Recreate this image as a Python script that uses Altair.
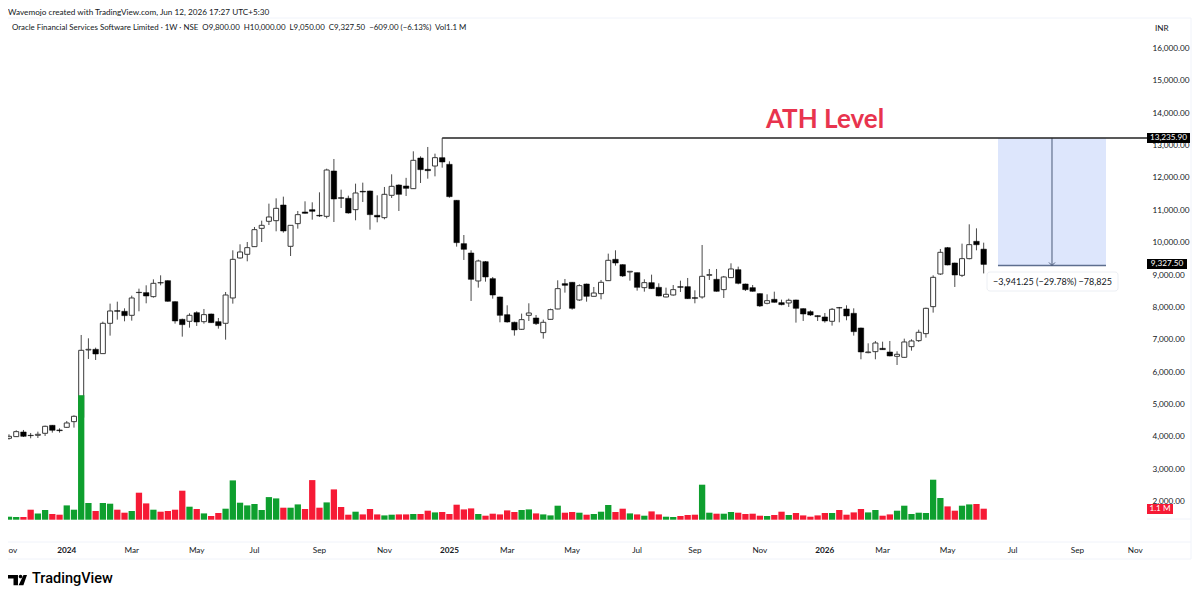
import altair as alt
import pandas as pd

opens = [3954,4006,4150,4047,4047,4109,4356,4212,4294,4469,4593,6684,6704,6571,7508,7899,7879,7755,8466,8456,
8332,8764,8826,8177,7631,7570,7837,7559,7796,7559,7508,8291,9527,9640,9877,10443,10660,10680,11164,9887,
10588,10948,11020,10845,10814,12215,11391,11370,11020,11587,11597,10845,10773,11463,11782,11752,11669,12617,12266,12369,
12627,12421,11309,9970,9681,8816,9413,8888,8322,7776,7539,7323,7755,7673,7220,7631,7951,8734,8775,8229,
8723,8342,8425,8826,9486,9321,9094,9074,8610,8765,8620,8322,8383,8641,8641,8301,8322,8991,8868,8548,
8919,9166,8723,8610,8425,8126,8250,8147,8136,8229,7961,7868,7745,7704,7570,7992,7951,7817,7364,6602,
6632,6735,6622,6488,6457,6787,6972,7189,8023,9032,9846,9372,8991,9506,10042,9800]
closes = [4016,4160,4016,4037,4078,4325,4202,4191,4428,4634,6674,6704,6560,7508,7889,7879,7745,8291,8456,8352,
8744,8754,8188,7580,7467,7755,7549,7776,7529,7436,8383,9485,9712,9846,10402,10536,10794,11061,10361,10536,
10866,10907,10969,10825,12246,11350,11370,10917,11535,11566,10866,10794,11494,11741,11494,11679,12545,12256,12225,12627,
12493,11422,10000,9795,8867,9434,8940,8383,7755,7549,7302,7621,7827,7498,7539,7930,8579,8682,7971,8672,
8342,8445,8775,9455,9372,8971,9115,8620,8765,8579,8353,8404,8548,8620,8270,8280,8960,9012,8497,8940,
9187,8744,8548,8497,8044,8208,8157,8085,8219,7971,7796,7765,7714,7580,7941,7982,7735,7250,6622,6622,
6900,6694,6499,6550,6931,6962,7230,7971,8929,9702,9310,9001,9506,9939,9936,9327.5]
highs = [4078,4202,4212,4119,4160,4346,4366,4263,4490,4665,7147,7044,6756,7559,8116,8177,7971,8363,8579,8682,
8867,8991,8837,8188,7652,7817,7879,7951,7807,7673,8476,9764,9949,10021,10485,10680,11206,11370,11422,10536,
10979,11278,11247,11556,12287,12586,11638,11453,11824,11855,11607,11463,11721,12112,11803,12003,12823,12668,12957,12751,
13235.9,12514,11319,10237,9764,9475,9434,8940,8332,8064,7559,7807,8126,7765,7621,7961,8837,8878,8785,8713,
8734,8631,8847,9661,9764,9331,9115,9074,8868,9012,8744,8610,8692,8826,8909,8528,9928,9187,9187,8971,
9362,9259,8734,8692,8435,8404,8486,8239,8270,8239,7971,7910,7755,7827,7982,8013,8064,7971,7374,6890,
6962,6941,6962,6643,7034,7014,7312,7992,8991,9805,9867,9382,9970,10567,10443,10000]
lows = [3913,3996,3996,3954,3965,4027,4130,4130,4274,4284,4550,6406,6375,6571,7127,7621,7570,7590,7879,8126,
8301,8682,8177,7498,7096,7374,7426,7498,7518,7343,7003,8116,9506,9424,9867,10021,10546,10351,10310,9588,
10433,10897,10711,10794,10752,10639,11072,10897,10691,11257,10402,10629,10722,11381,10979,11442,11659,11844,11978,12050,
12318,11391,9877,9465,8198,8610,8795,8270,7539,7529,7127,7302,7580,7456,7034,7621,7941,8456,7930,8198,
8177,8342,8250,8816,9290,8940,8826,8517,8486,8569,8342,8311,8363,8476,8260,8126,8270,8847,8486,8291,
8909,8713,8507,8486,8013,8095,8147,8064,8013,7529,7580,7735,7580,7529,7436,7539,7601,7127,6396,6581,
6396,6694,6488,6220,6437,6663,6931,7065,7838,9001,9300,8631,8940,9485,9764,9050]
volumes = [300,270,270,1000,630,970,570,500,1430,1000,12450,1670,870,1670,1600,1000,700,870,2700,1630,
1000,800,870,1000,2900,1300,1070,630,370,670,1100,3930,1700,1430,1570,970,2260,2130,1200,1200,
1530,1070,3960,1200,1730,3030,1270,500,800,530,1070,530,430,500,530,530,570,570,900,730,
770,570,1500,1030,1130,570,400,600,530,930,770,970,1030,630,530,430,1400,700,770,700,
500,570,800,1470,770,1100,630,530,400,830,530,300,270,370,470,500,3500,700,600,600,
770,700,570,600,400,370,470,800,470,670,430,300,430,670,670,970,500,730,1070,730,
970,400,530,900,1400,570,700,670,4000,2170,1330,900,1400,1530,1570,1100]

month_weeks = [8,17,26,34,43,52,61,69,78,87,95,104,113,121,130,139,148,156]
month_labels = ["2024","Mar","May","Jul","Sep","Nov","2025","Mar","May","Jul","Sep","Nov","2026","Mar","May","Jul","Sep","Nov"]
price_ticks = [2000,3000,4000,5000,6000,7000,8000,9000,10000,11000,12000,13000,14000,15000,16000]

ATH_WEEK = 60
ATH_PRICE = 13235.9
MEASURE_END = 9294.65
MEASURE_LEFT, MEASURE_MID, MEASURE_RIGHT = 136.98, 144.46, 151.94

XMIN, XMAX = -0.1385, 157.62
x_scale = alt.Scale(domain=[XMIN, XMAX], nice=False, zero=False, padding=0)
y_scale = alt.Scale(domain=[719, 16912], nice=False, zero=False)
v_scale = alt.Scale(domain=[-2330, 50070], nice=False, zero=False)
FONT = "Lato"
INK = "#131722"
SMALL = 8.2

df = pd.DataFrame({"w": range(len(opens)), "o": opens, "c": closes, "h": highs, "l": lows, "v": volumes})
df["up"] = df.c >= df.o
df["base"] = 0
X = alt.X("w:Q", scale=x_scale, axis=None)


def text(s, px, py, size=SMALL, color=INK, align="left", weight="normal", font=FONT):
    return alt.Chart(pd.DataFrame({"t": [s]})).mark_text(
        align=align, baseline="middle", fontSize=size, color=color, fontWeight=weight, font=font
    ).encode(x=alt.value(px - 8), y=alt.value(py - 18), text="t:N")


def box(x0, x1, y0, y1, fill, **kw):
    return alt.Chart(pd.DataFrame({"a": [0]})).mark_rect(fill=fill, **kw).encode(
        x=alt.value(x0 - 8), x2=alt.value(x1 - 8), y=alt.value(y0 - 18), y2=alt.value(y1 - 18)
    )


def hline(py, x0, x1, color="#f0f3fa"):
    return alt.Chart(pd.DataFrame({"a": [0]})).mark_rule(color=color, strokeWidth=1).encode(
        x=alt.value(x0 - 8), x2=alt.value(x1 - 8), y=alt.value(py - 18)
    )


def vline(px, y0, y1, color="#f0f3fa"):
    return alt.Chart(pd.DataFrame({"a": [0]})).mark_rule(color=color, strokeWidth=1).encode(
        x=alt.value(px - 8), y=alt.value(y0 - 18), y2=alt.value(y1 - 18)
    )


axis_layer = alt.Chart(pd.DataFrame({"p": price_ticks})).mark_point(opacity=0).encode(
    x=alt.value(0),
    y=alt.Y("p:Q", scale=y_scale, axis=alt.Axis(
        orient="right", values=price_ticks, format=",.2f", tickSize=0, domain=False, grid=False,
        labelFont=FONT, labelFontSize=SMALL, labelColor=INK, labelPadding=5, labelAlign="left",
        title=None, labelOverlap=False)),
)

frame = [hline(17, 8, 1191), hline(541, 8, 1191), hline(558, 8, 1191), hline(518, 1147, 1191), vline(1191, 17, 558)]

measure = pd.DataFrame({"x0": [MEASURE_LEFT], "x1": [MEASURE_RIGHT], "xm": [MEASURE_MID],
                        "top": [ATH_PRICE], "bot": [MEASURE_END]})
measure_rect = alt.Chart(measure).mark_rect(fill="#dde6fc").encode(
    x=alt.X("x0:Q", scale=x_scale, axis=None), x2="x1:Q",
    y=alt.Y("top:Q", scale=y_scale, axis=None), y2="bot:Q")
measure_base = alt.Chart(measure).mark_rule(color="#5d6e8e", strokeWidth=1.5).encode(
    x=alt.X("x0:Q", scale=x_scale, axis=None), x2="x1:Q",
    y=alt.Y("bot:Q", scale=y_scale, axis=None))
measure_arrow = alt.Chart(measure).mark_rule(color="#4a5a78", strokeWidth=1).encode(
    x=alt.X("xm:Q", scale=x_scale, axis=None),
    y=alt.Y("top:Q", scale=y_scale, axis=None), y2="bot:Q")
measure_head = alt.Chart(measure).mark_point(
    shape="M-1,-1 L0,0 L1,-1", filled=False, size=36, color="#4a5a78", strokeWidth=1, opacity=1
).encode(x=alt.X("xm:Q", scale=x_scale, axis=None), y=alt.Y("bot:Q", scale=y_scale, axis=None))

wicks = alt.Chart(df).mark_rule(color="#4a4a4a", strokeWidth=1).encode(
    x=X, y=alt.Y("h:Q", scale=y_scale, axis=None), y2="l:Q")
bodies_up = alt.Chart(df[df.up]).mark_bar(size=5, orient="vertical", fill="white", stroke="#3a3a3a", strokeWidth=1).encode(
    x=X, y=alt.Y("o:Q", scale=y_scale, axis=None), y2="c:Q")
bodies_down = alt.Chart(df[~df.up]).mark_bar(size=5.5, orient="vertical", fill="#000000", stroke="#000000", strokeWidth=0.5).encode(
    x=X, y=alt.Y("o:Q", scale=y_scale, axis=None), y2="c:Q")
vol_bars = alt.Chart(df).mark_bar(size=6.3, orient="vertical").encode(
    x=X, y=alt.Y("v:Q", scale=v_scale, axis=None), y2="base:Q",
    color=alt.Color("up:N", legend=None, scale=alt.Scale(domain=[True, False], range=["#0e9f2e", "#f61a35"])))

ath = pd.DataFrame({"x0": [ATH_WEEK], "x1": [XMAX], "p": [ATH_PRICE]})
ath_rule = alt.Chart(ath).mark_rule(color="#222222", strokeWidth=1.5).encode(
    x=alt.X("x0:Q", scale=x_scale, axis=None), x2="x1:Q",
    y=alt.Y("p:Q", scale=y_scale, axis=None))

months = pd.DataFrame({"w": month_weeks, "t": month_labels})
is_year = months.t.str.startswith("20")
month_text = alt.Chart(months[~is_year]).mark_text(fontSize=SMALL, font=FONT, color=INK).encode(
    x=alt.X("w:Q", scale=x_scale, axis=None), y=alt.value(550 - 18), text="t:N")
year_text = alt.Chart(months[is_year]).mark_text(fontSize=SMALL, font=FONT, color=INK, fontWeight="bold").encode(
    x=alt.X("w:Q", scale=x_scale, axis=None), y=alt.value(550 - 18), text="t:N")

LOGO = ("M-1,-0.53 L0.05,-0.53 L0.05,0.55 L-0.42,0.55 L-0.42,-0.16 L-1,-0.16 Z "
        "M0.13,-0.37 A0.19,0.19 0 1 1 0.51,-0.37 A0.19,0.19 0 1 1 0.13,-0.37 Z "
        "M0.63,-0.53 L1,-0.53 L0.62,0.55 L0.12,0.55 Z")
logo = alt.Chart(pd.DataFrame({"a": [0]})).mark_point(
    shape=LOGO, filled=True, size=361, color="#000000", opacity=1, strokeWidth=0
).encode(x=alt.value(17.5 - 8), y=alt.value(579 - 18))

layers = [axis_layer] + frame + [
    measure_rect, measure_base, measure_arrow, measure_head,
    wicks, bodies_up, bodies_down, vol_bars, ath_rule, month_text, year_text,
    text("ov", 8.5, 550),
    text("Wavemojo created with TradingView.com, Jun 12, 2026 17:27 UTC+5:30", 8, 12),
    text("Oracle Financial Services Software Limited · 1W · NSE\u00a0\u00a0O9,800.00\u00a0\u00a0H10,000.00\u00a0\u00a0L9,050.00\u00a0\u00a0C9,327.50\u00a0\u00a0−609.00 (−6.13%)\u00a0\u00a0Vol1.1 M", 12, 26.5, 7.9),
    text("INR", 1155, 28),
    text("ATH Level", 825, 118.5, 26, "#e8344e", "center", "bold"),
    box(1147, 1190, 132, 142, "#000000"),
    text("13,235.90", 1168.5, 137, SMALL, "#ffffff", "center"),
    box(1147, 1187, 258, 268, "#000000"),
    text("9,327.50", 1167, 263, SMALL, "#ffffff", "center"),
    box(1147, 1173, 503, 513, "#f61a35"),
    text("1.1 M", 1160, 508, SMALL, "#ffffff", "center"),
    box(987, 1118, 271, 290, "#ffffff", cornerRadius=3, stroke="#eceff4", strokeWidth=1),
    text("−3,941.25 (−29.78%) −78,825", 1052.5, 280.5, 9, INK, "center"),
    logo,
    text("TradingView", 32, 577.5, 14.5, "#000000", "left", 500, "Roboto"),
]

chart = alt.layer(*layers).resolve_scale(y="independent").properties(
    width=1139, height=524,
    padding={"left": 0, "top": 11, "right": 45, "bottom": 44},
    autosize=alt.AutoSizeParams(type="none"),
    background="white",
).configure_view(stroke=None)

chart.save("out.html", embed_options={"renderer": "svg", "actions": False})
